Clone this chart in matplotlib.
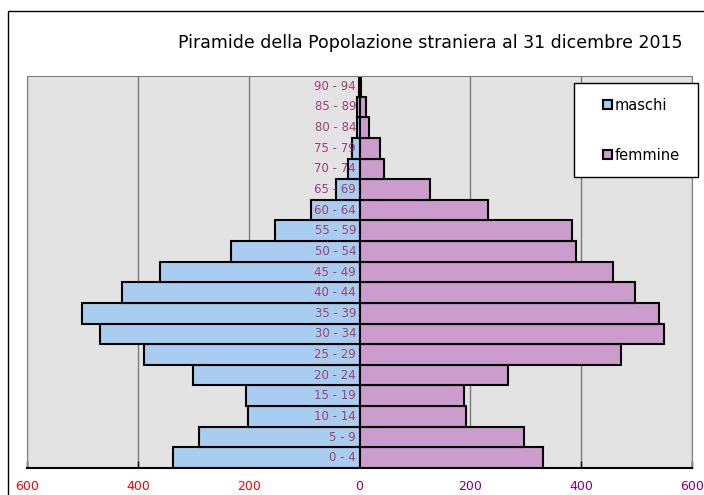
import numpy as np
import matplotlib.pyplot as plt
from matplotlib.patches import Rectangle

# dati
eta = ["0 - 4", "5 - 9", "10 - 14", "15 - 19", "20 - 24", "25 - 29", "30 - 34",
       "35 - 39", "40 - 44", "45 - 49", "50 - 54", "55 - 59", "60 - 64",
       "65 - 69", "70 - 74", "75 - 79", "80 - 84", "85 - 89", "90 - 94"]
maschi = [337, 290, 201, 205, 300, 389, 468, 501, 429, 360, 232, 153, 88,
          42, 21, 14, 4, 4, 1]
femmine = [331, 297, 192, 189, 268, 472, 550, 541, 497, 458, 391, 384, 232,
           127, 44, 37, 17, 11, 3]
xticks = [-600, -400, -200, 0, 200, 400, 600]
xlabels = ["600", "400", "200", "0", "200", "400", "600"]
xcolors = ["red", "red", "red", "#800080", "#800080", "#800080", "#800080"]

col_m = "#a9cdf0"
col_f = "#cc9ccc"

fig = plt.figure(figsize=(7.04, 4.95), dpi=100)
fig.patches.append(Rectangle((8 / 704, -0.1), 1.2, 1 - 11 / 495 + 0.1,
                             transform=fig.transFigure, fill=False,
                             edgecolor="black", lw=1))

ax = fig.add_axes([27 / 704, 27 / 495, 665 / 704, 392 / 495])
ax.set_facecolor("#e3e3e3")

y = np.arange(len(eta))
ax.barh(y, -np.array(maschi), height=1.0, color=col_m, edgecolor="black",
        lw=1.5, label="maschi", zorder=2)
ax.barh(y, femmine, height=1.0, color=col_f, edgecolor="black",
        lw=1.5, label="femmine", zorder=2)

for i, lab in enumerate(eta):
    ax.text(-6, i, lab, ha="right", va="center", fontsize=8.5,
            color="#a0406e", family="Liberation Sans Narrow", zorder=3)

ax.set_xlim(-600, 600)
ax.set_ylim(-0.5, len(eta) - 0.5)
ax.set_yticks([])
ax.set_xticks(xticks)
ax.set_xticklabels(xlabels, family="Liberation Sans Narrow", fontsize=9)
for t, c in zip(ax.get_xticklabels(), xcolors):
    t.set_color(c)
ax.tick_params(axis="x", direction="in", length=5, width=1, pad=9)
for x in xticks:
    ax.axvline(x, color="#7a7a7a", lw=1, zorder=1)

for s in ["top", "right", "left"]:
    ax.spines[s].set_color("#808080")
ax.spines["bottom"].set_color("black")
ax.spines["bottom"].set_linewidth(1.5)

# riquadro legenda
ax.add_patch(Rectangle((547 / 665, 291 / 392), 124 / 665, 94 / 392,
                       transform=ax.transAxes, facecolor="white",
                       edgecolor="black", lw=1, clip_on=False, zorder=4))
leg = ax.legend(loc="center left", bbox_to_anchor=(576 / 665, 337.5 / 392),
                borderaxespad=0, borderpad=0, frameon=False,
                handlelength=0.6, handleheight=0.6, handletextpad=0.2,
                labelspacing=2.4,
                prop={"family": "Liberation Sans Narrow", "size": 10.5})
leg.set_zorder(5)

fig.text(430 / 704, 1 - 43 / 495, "Piramide della Popolazione straniera al 31 dicembre 2015",
         ha="center", va="center", fontsize=12.5, family="Liberation Sans Narrow")

fig.savefig("out.png", dpi=100)
